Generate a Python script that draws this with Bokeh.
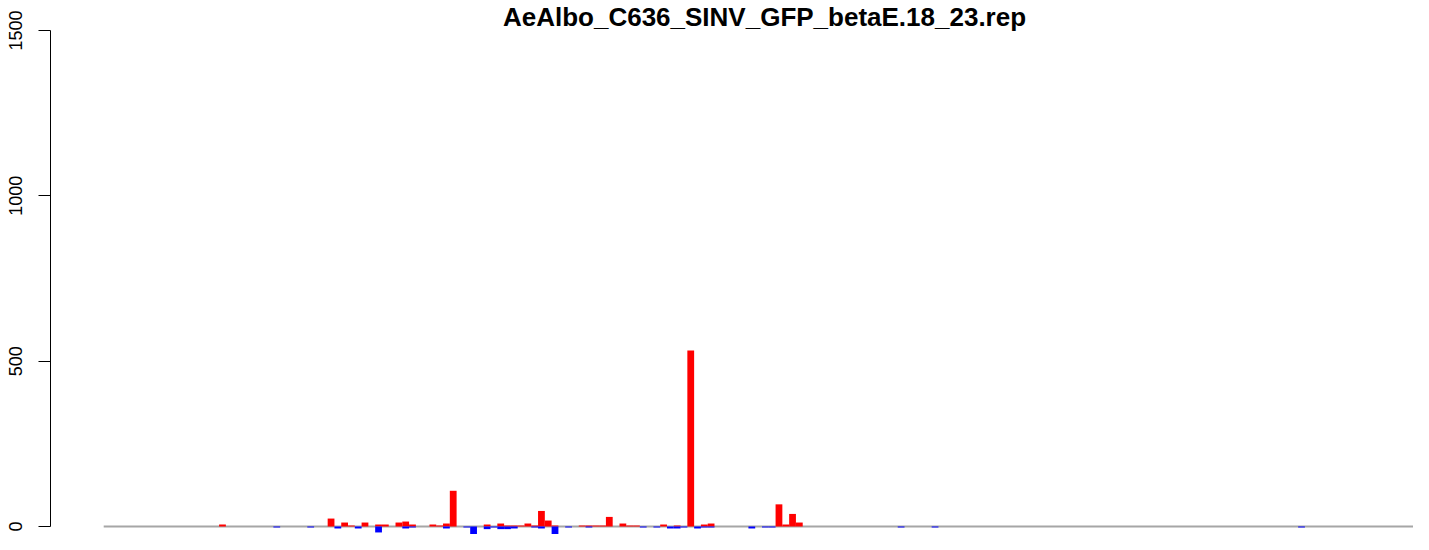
from bokeh.plotting import figure
from bokeh.models import Range1d, FixedTicker, Label, ColumnDataSource
from bokeh.embed import file_html
from bokeh.resources import INLINE

# ---- data ----
title_text = "AeAlbo_C636_SINV_GFP_betaE.18_23.rep"
n_bins = 200
bins = [17, 25, 30, 33, 34, 35, 36, 37, 38, 40, 41, 43, 44, 45, 48, 49, 50, 51,
        53, 54, 56, 57, 58, 59, 60, 61, 62, 63, 64, 65, 66, 68, 70, 71, 72, 73,
        74, 76, 77, 78, 79, 81, 82, 83, 84, 85, 86, 87, 88, 89, 95, 97, 98, 99,
        100, 101, 102, 117, 122, 176]
plus_counts = [6, 0, 0, 24, 0, 12, 3, 0, 12, 6, 6, 12, 15, 6, 6, 3, 9, 108,
               0, 0, 6, 0, 9, 3, 3, 3, 9, 3, 47, 18, 3, 0, 3, 3, 3, 3,
               29, 9, 3, 3, 0, 0, 6, 0, 3, 0, 532, 0, 6, 9, 0, 0, 0, 67,
               6, 38, 12, 0, 0, 0]
minus_counts = [0, -3, -3, 0, -6, 0, 0, -6, 0, -18, 0, 0, -6, -3, 0, 0, -6, 0,
                -3, -23, -8, -3, -8, -8, -6, 0, 0, -3, -6, 0, -23, -3, 0, -3, 0, 0,
                0, 0, 0, 0, -3, -3, 0, -6, -6, -3, 0, -6, -3, -3, -6, -3, -3, 0,
                0, 0, 0, -3, -3, -3]
y_ticks = [0, 500, 1000, 1500]

centers = [b + 0.5 for b in bins]
src = ColumnDataSource(dict(x=centers, plus=plus_counts, minus=minus_counts))

p = figure(width=1413, height=534, output_backend="svg", toolbar_location=None,
           x_range=Range1d(-7.84, 193.0), y_range=Range1d(-24.2, 1590.7),
           x_axis_location=None,
           min_border_left=50, min_border_right=0, min_border_top=0, min_border_bottom=0)
p.grid.visible = False
p.outline_line_color = None

# zero baseline across the data extent
p.line(x=[0, n_bins], y=[0, 0], line_color="#A6A6A6", line_width=2)

p.vbar(x="x", width=1, top="plus", bottom=0, source=src,
       fill_color="#FF0000", line_color=None)
p.vbar(x="x", width=1, top=0, bottom="minus", source=src,
       fill_color="#0000FF", line_color=None)

yax = p.yaxis[0]
yax.ticker = FixedTicker(ticks=y_ticks)
yax.bounds = (0, 1500)
yax.major_tick_out = 12
yax.major_tick_in = 0
yax.minor_tick_out = 0
yax.minor_tick_in = 0
yax.major_label_orientation = "vertical"
yax.major_label_text_font = "Liberation Sans"
yax.major_label_text_font_size = "18px"
yax.major_label_text_color = "black"
yax.major_label_standoff = 16
yax.axis_line_color = "black"
yax.axis_line_width = 1
yax.major_tick_line_color = "black"
yax.major_tick_line_width = 1

title = Label(x=714, y=533, x_units="screen", y_units="screen", text=title_text,
              text_align="center", text_baseline="top",
              text_font="Liberation Sans", text_font_style="bold",
              text_font_size="26px", text_color="black")
p.add_layout(title)

open("out.html", "w").write(file_html(p, INLINE))
